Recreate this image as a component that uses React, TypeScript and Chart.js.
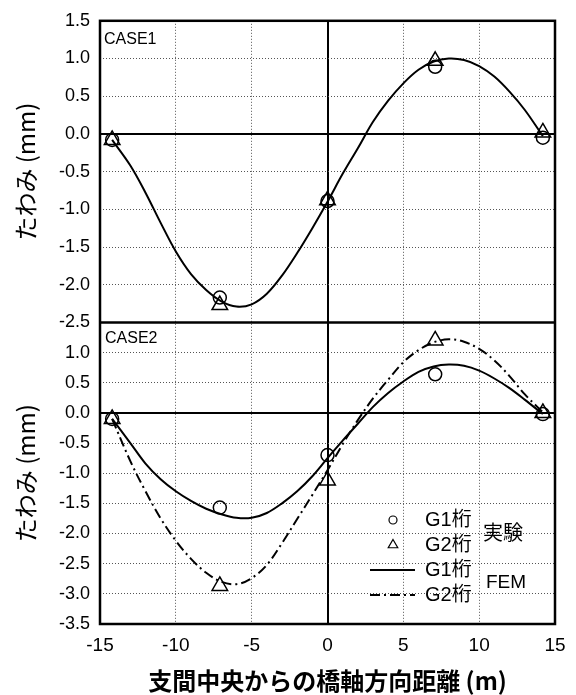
import React, { useEffect, useRef } from "react";
import { Chart, registerables } from "chart.js";

Chart.register(...registerables);

// ---- data ----
const xRange = [-15, 15];
const xStep = 5;
const topRange = [-2.5, 1.5];
const botRange = [-3.5, 1.5];
const yStep = 0.5;

const expX = [-14.2, -7.1, 0, 7.1, 14.2];
const case1ExpG1 = [-0.08, -2.17, -0.89, 0.89, -0.05];
const case1ExpG2 = [-0.08, -2.27, -0.88, 0.97, 0.02];
const case2ExpG1 = [-0.1, -1.57, -0.7, 0.64, -0.02];
const case2ExpG2 = [-0.1, -2.87, -1.12, 1.2, 0.0];

const femX = [-14.2, -13, -12, -11, -10, -9, -8, -7, -6, -5, -4, -3, -2, -1, 0, 1, 2, 3, 4, 5, 6, 7, 8, 9, 10, 11, 12, 13, 14.2];
const case1Fem = [-0.08, -0.42, -0.78, -1.18, -1.56, -1.86, -2.07, -2.22, -2.29, -2.26, -2.12, -1.88, -1.58, -1.25, -0.9, -0.53, -0.19, 0.16, 0.44, 0.67, 0.85, 0.96, 1.0, 0.98, 0.9, 0.76, 0.56, 0.32, -0.03];
const case2FemG1 = [-0.1, -0.5, -0.84, -1.1, -1.3, -1.46, -1.59, -1.68, -1.74, -1.74, -1.66, -1.5, -1.3, -1.05, -0.75, -0.46, -0.18, 0.1, 0.33, 0.52, 0.68, 0.77, 0.8, 0.78, 0.7, 0.57, 0.41, 0.22, -0.02];
const case2FemG2 = [-0.1, -0.8, -1.3, -1.75, -2.12, -2.42, -2.65, -2.8, -2.84, -2.74, -2.52, -2.16, -1.76, -1.36, -0.95, -0.52, -0.12, 0.24, 0.55, 0.84, 1.04, 1.17, 1.22, 1.18, 1.06, 0.87, 0.61, 0.31, 0.01];

const caseLabels = ["CASE1", "CASE2"];
const legendTexts = ["G1桁", "G2桁", "G1桁", "G2桁"];
const legendGroups = ["実験", "FEM"];
const yTitle = "たわみ (mm)";
const xTitle = "支間中央からの橋軸方向距離 (m)";

const NUM_FONT = "'Liberation Sans', Arial, 'Noto Sans CJK JP', sans-serif";
const JP_FONT = "'Noto Sans CJK JP', 'Liberation Sans', sans-serif";
const DASH_DOT = [10, 4, 2, 4];

const pts = (xs: number[], ys: number[]) => xs.map((x, i) => ({ x, y: ys[i] }));

const overlayPlugin = {
  id: "overlay",
  afterDraw(chart: any) {
    const { ctx, chartArea: ca } = chart;
    const yt = chart.scales.yTop;
    const yb = chart.scales.yBot;
    ctx.save();
    // frame and separator
    ctx.strokeStyle = "#000";
    ctx.lineWidth = 2.5;
    ctx.setLineDash([]);
    ctx.strokeRect(ca.left, ca.top, ca.right - ca.left, ca.bottom - ca.top);
    ctx.beginPath();
    ctx.moveTo(ca.left, yt.bottom);
    ctx.lineTo(ca.right, yt.bottom);
    ctx.stroke();

    // case labels
    ctx.fillStyle = "#000";
    ctx.font = `16px ${NUM_FONT}`;
    ctx.textAlign = "left";
    ctx.textBaseline = "middle";
    ctx.fillText(caseLabels[0], ca.left + 4, yt.top + 19);
    ctx.fillText(caseLabels[1], ca.left + 5, yb.top + 16);

    // legend
    const rows = [yb.bottom - 104, yb.bottom - 79, yb.bottom - 54, yb.bottom - 29];
    const symX = ca.left + 293;
    ctx.lineWidth = 1.2;
    ctx.beginPath();
    ctx.arc(symX, rows[0], 4, 0, Math.PI * 2);
    ctx.stroke();
    const r = 5.5;
    ctx.beginPath();
    ctx.moveTo(symX, rows[1] - r);
    ctx.lineTo(symX + r * 0.866, rows[1] + r * 0.5);
    ctx.lineTo(symX - r * 0.866, rows[1] + r * 0.5);
    ctx.closePath();
    ctx.stroke();
    ctx.lineWidth = 2;
    ctx.beginPath();
    ctx.moveTo(ca.left + 270, rows[2]);
    ctx.lineTo(ca.left + 315, rows[2]);
    ctx.stroke();
    ctx.setLineDash(DASH_DOT);
    ctx.beginPath();
    ctx.moveTo(ca.left + 270, rows[3]);
    ctx.lineTo(ca.left + 315, rows[3]);
    ctx.stroke();
    ctx.setLineDash([]);

    ctx.font = `20px ${NUM_FONT}`;
    legendTexts.forEach((t, i) => ctx.fillText(t, ca.left + 325, rows[i]));
    ctx.font = `20px ${JP_FONT}`;
    ctx.fillText(legendGroups[0], ca.left + 383, (rows[0] + rows[1]) / 2);
    ctx.font = `19px ${NUM_FONT}`;
    ctx.fillText(legendGroups[1], ca.left + 386, (rows[2] + rows[3]) / 2);
    ctx.restore();
  },
};

const isZero = (c: any) => c.tick && Math.abs(c.tick.value) < 1e-9;
const gridColor = (c: any) => (isZero(c) ? "#000" : "#555");
const gridWidth = (c: any) => (isZero(c) ? 2 : 1);
const gridDash = (c: any) => (isZero(c) ? [] : [1, 2]);
const fmt = (v: any) => (Math.abs(Number(v)) < 1e-9 ? "0.0" : Number(v).toFixed(1));

export default function App() {
  const ref = useRef<HTMLCanvasElement | null>(null);
  useEffect(() => {
    if (!ref.current) return;
    const markerBase = {
      showLine: false,
      borderColor: "#000",
      backgroundColor: "rgba(0,0,0,0)",
      pointBorderWidth: 1.5,
    };
    const yTicks = { stepSize: yStep, autoSkip: false, color: "#000", padding: 10, font: { family: NUM_FONT, size: 18 }, callback: fmt };
    const chart = new Chart(ref.current, {
      type: "scatter",
      data: {
        datasets: [
          { ...markerBase, label: "CASE1 G1 実験", data: pts(expX, case1ExpG1), yAxisID: "yTop", pointStyle: "circle", pointRadius: 6.5 },
          { ...markerBase, label: "CASE1 G2 実験", data: pts(expX, case1ExpG2), yAxisID: "yTop", pointStyle: "triangle", pointRadius: 9 },
          { ...markerBase, label: "CASE2 G1 実験", data: pts(expX, case2ExpG1), yAxisID: "yBot", pointStyle: "circle", pointRadius: 6.5 },
          { ...markerBase, label: "CASE2 G2 実験", data: pts(expX, case2ExpG2), yAxisID: "yBot", pointStyle: "triangle", pointRadius: 9 },
          { label: "CASE1 FEM", data: pts(femX, case1Fem), yAxisID: "yTop", showLine: true, pointRadius: 0, borderColor: "#000", borderWidth: 2, tension: 0.35 },
          { label: "CASE2 G1 FEM", data: pts(femX, case2FemG1), yAxisID: "yBot", showLine: true, pointRadius: 0, borderColor: "#000", borderWidth: 2, tension: 0.35 },
          { label: "CASE2 G2 FEM", data: pts(femX, case2FemG2), yAxisID: "yBot", showLine: true, pointRadius: 0, borderColor: "#000", borderWidth: 2, borderDash: DASH_DOT, tension: 0.35 },
        ],
      },
      options: {
        responsive: false,
        animation: false,
        devicePixelRatio: 1,
        layout: { padding: { top: 16, right: 21, left: 0, bottom: 0 } },
        plugins: { legend: { display: false }, tooltip: { enabled: false } },
        scales: {
          x: {
            type: "linear",
            position: "bottom",
            min: xRange[0],
            max: xRange[1],
            ticks: { stepSize: xStep, autoSkip: false, maxRotation: 0, color: "#000", padding: 10, font: { family: NUM_FONT, size: 19 } },
            grid: { color: gridColor, lineWidth: gridWidth, drawTicks: false },
            border: { display: false, dash: gridDash },
            title: { display: true, text: xTitle, color: "#000", font: { family: JP_FONT, size: 24, weight: "bold" }, padding: { top: 0, bottom: 0 } },
            afterFit: (s: any) => { s.height = 71; },
          },
          yBot: {
            type: "linear",
            position: "left",
            stack: "panels",
            stackWeight: 1,
            weight: 0,
            min: botRange[0],
            max: botRange[1],
            ticks: yTicks,
            afterBuildTicks: (s: any) => { s.ticks = s.ticks.filter((t: any) => t.value < botRange[1] - 0.1); },
            grid: { color: gridColor, lineWidth: gridWidth, drawTicks: false },
            border: { display: false, dash: gridDash },
            title: { display: true, text: yTitle, color: "#000", font: { family: JP_FONT, size: 24 }, padding: { top: 11, bottom: 0 } },
            afterFit: (s: any) => { s.width = 100; },
          },
          yTop: {
            type: "linear",
            position: "left",
            stack: "panels",
            stackWeight: 1,
            weight: 1,
            min: topRange[0],
            max: topRange[1],
            ticks: yTicks,
            grid: { color: gridColor, lineWidth: gridWidth, drawTicks: false },
            border: { display: false, dash: gridDash },
            title: { display: true, text: yTitle, color: "#000", font: { family: JP_FONT, size: 24 }, padding: { top: 11, bottom: 0 } },
            afterFit: (s: any) => { s.width = 100; },
          },
        },
      },
      plugins: [overlayPlugin],
    } as any);
    return () => chart.destroy();
  }, []);

  return (
    <div style={{ position: "absolute", left: 0, top: 0, width: 576, height: 695, background: "#fff" }}>
      <canvas ref={ref} width={576} height={695} style={{ width: 576, height: 695, display: "block" }} />
    </div>
  );
}
